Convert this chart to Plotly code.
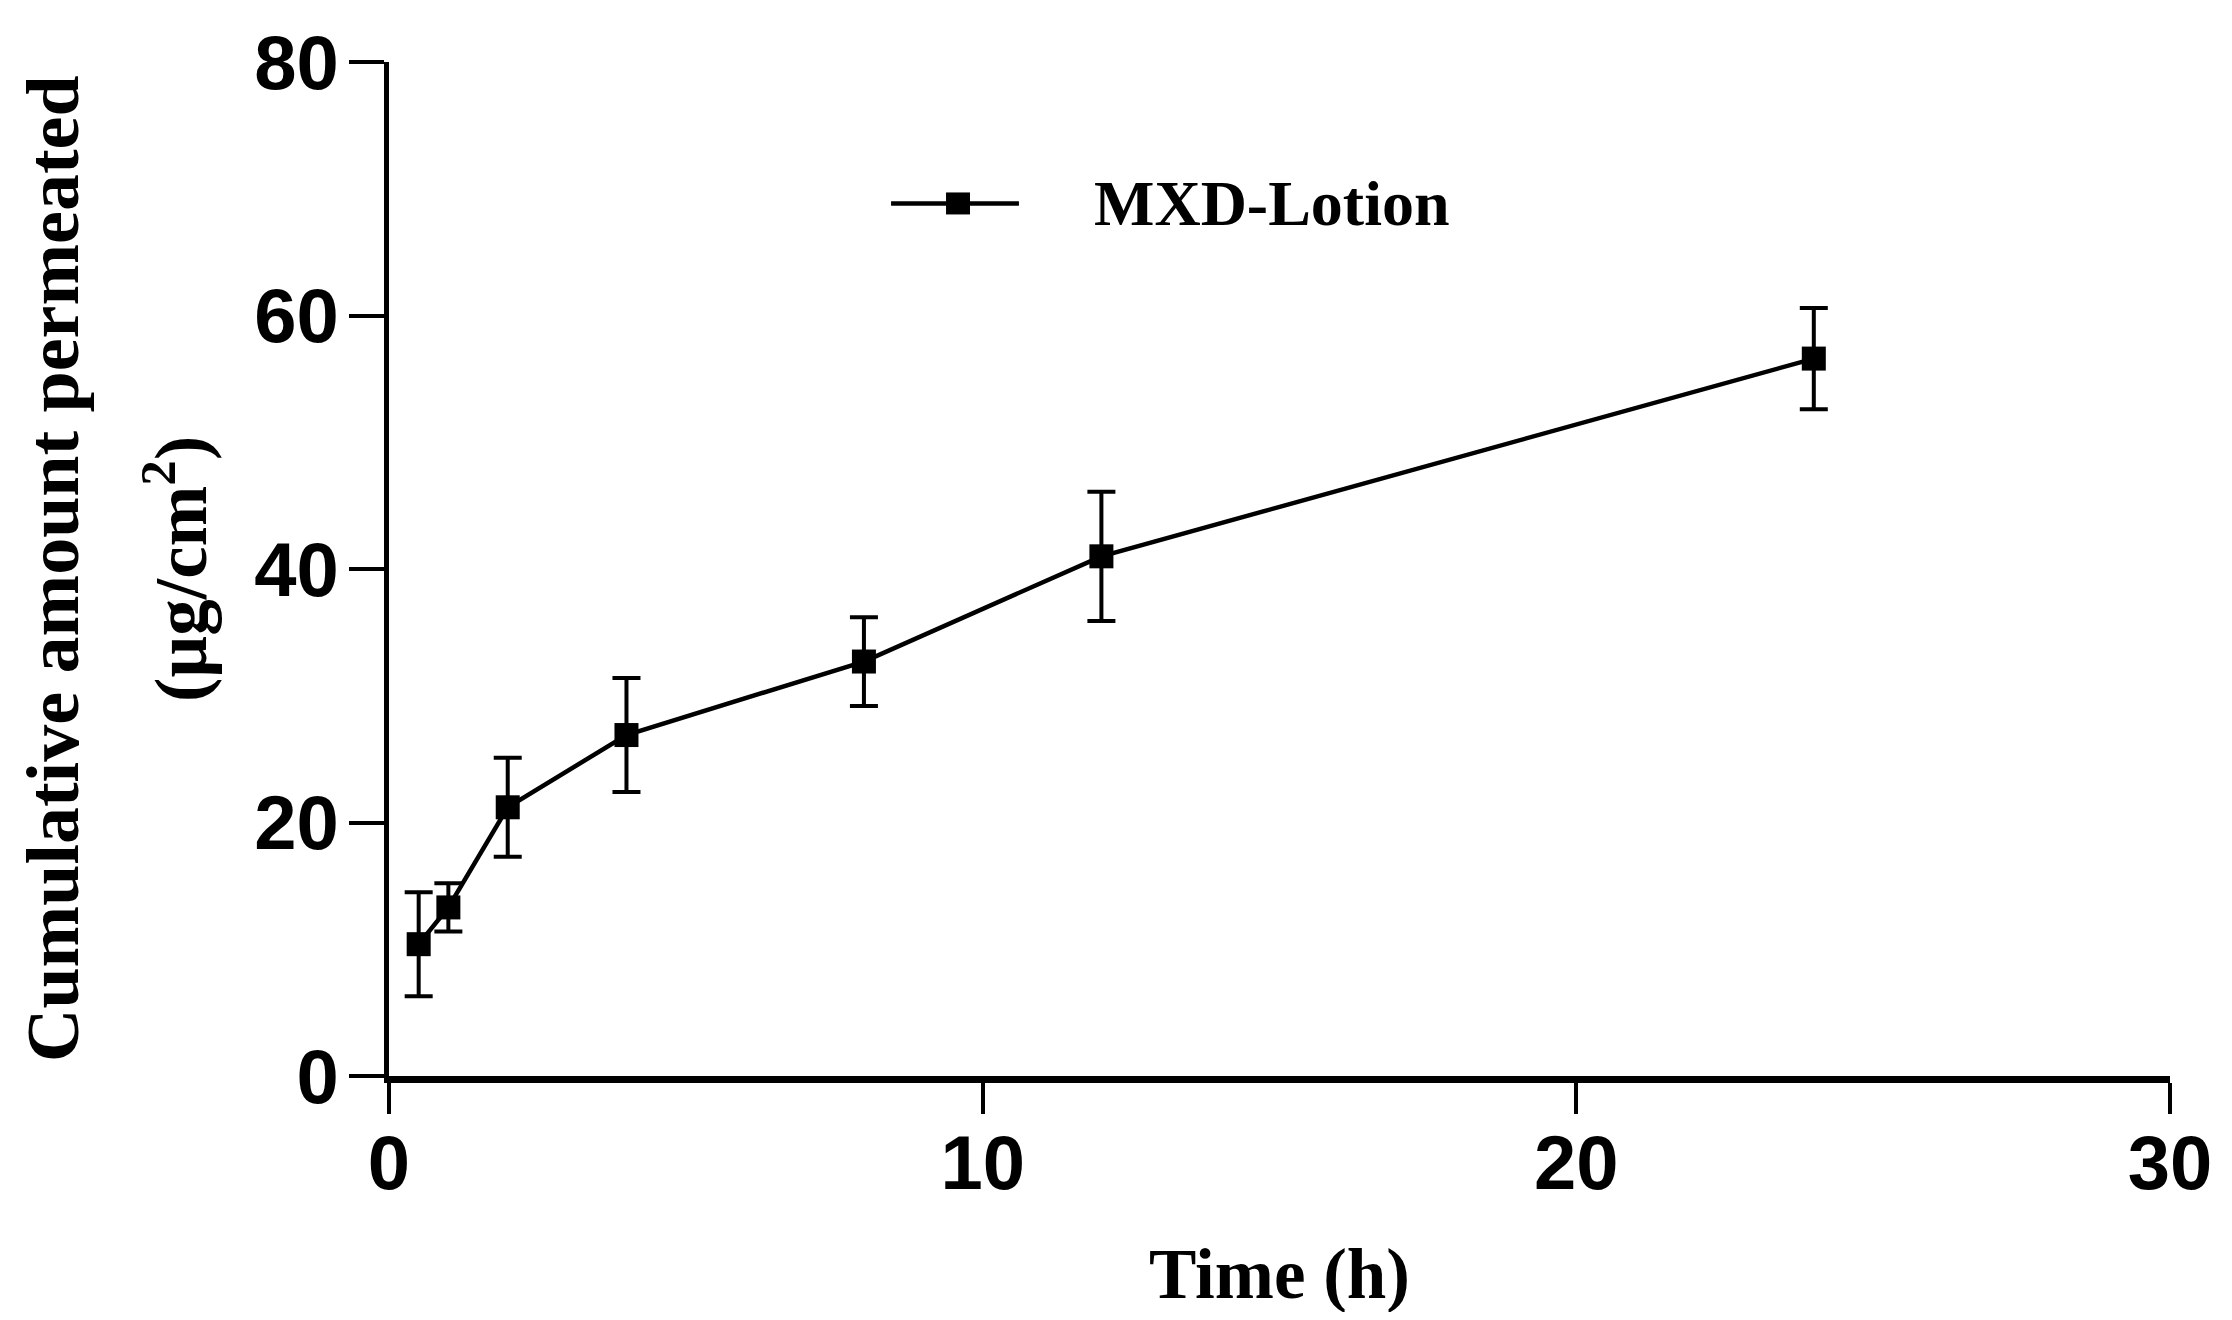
import plotly.graph_objects as go

# -- data
time_h = [0.5, 1, 2, 4, 8, 12, 24]
cum_permeated = [10.4, 13.3, 21.2, 26.9, 32.7, 41.0, 56.6]
sd_permeated = [4.1, 1.9, 3.9, 4.5, 3.5, 5.1, 4.0]
series_name = "MXD-Lotion"

x_ticks = [0, 10, 20, 30]
y_ticks = [0, 20, 40, 60, 80]

sans = "Liberation Sans, Arial, sans-serif"
serif = "Liberation Serif, Times New Roman, serif"

fig = go.Figure()

fig.add_trace(go.Scatter(
    x=time_h, y=cum_permeated,
    mode="lines+markers",
    name=series_name,
    line=dict(color="black", width=4.5),
    marker=dict(symbol="square", size=24, color="black"),
    error_y=dict(type="data", array=sd_permeated, visible=True,
                 color="black", thickness=4, width=14),
    showlegend=False,
))

# -- hand made legend (long line sample like the original)
leg_y = 0.8605
fig.add_shape(type="line", xref="paper", yref="paper",
              x0=0.2819, x1=0.3537, y0=leg_y, y1=leg_y,
              line=dict(color="black", width=4.5))
fig.add_shape(type="rect", xref="paper", yref="paper",
              xsizemode="pixel", ysizemode="pixel",
              xanchor=0.3195, yanchor=leg_y,
              x0=-12, x1=12, y0=-11, y1=11,
              fillcolor="black", line=dict(width=0))
fig.add_annotation(text=series_name, xref="paper", yref="paper",
                   x=0.3947, y=leg_y, xanchor="left", yanchor="middle",
                   showarrow=False,
                   font=dict(family=serif, size=64, color="black", weight="bold"))

# -- y axis title, two lines placed separately
fig.add_annotation(text="Cumulative amount permeated", xref="paper", yref="paper",
                   x=0, y=0.5, xshift=-336, xanchor="center", yanchor="middle",
                   textangle=-90, showarrow=False,
                   font=dict(family=serif, size=74, color="black", weight="bold"))
fig.add_annotation(text="(µg/cm<sup>2</sup>)", xref="paper", yref="paper",
                   x=0, y=0.5, xshift=-214, xanchor="center", yanchor="middle",
                   textangle=-90, showarrow=False,
                   font=dict(family=serif, size=73, color="black", weight="bold"))

# -- x axis title
fig.add_annotation(text="Time (h)", xref="paper", yref="paper",
                   x=0.5, y=0, yshift=-198, xanchor="center", yanchor="middle",
                   showarrow=False,
                   font=dict(family=serif, size=71, color="black", weight="bold"))

# page body has an 8px margin, so the figure is kept 16px smaller
fig.update_layout(
    width=2216, height=1304,
    margin=dict(l=381, r=54, t=43, b=236),
    paper_bgcolor="white", plot_bgcolor="white",
    xaxis=dict(
        range=[0, 30], tickvals=x_ticks,
        showgrid=False, zeroline=False,
        showline=True, linecolor="black", linewidth=7,
        ticks="outside", ticklen=31, tickwidth=4, tickcolor="black",
        ticklabelstandoff=-16,
        tickfont=dict(family=sans, size=76, color="black", weight="bold"),
    ),
    yaxis=dict(
        range=[0, 80], tickvals=y_ticks,
        showgrid=False, zeroline=False,
        showline=True, linecolor="black", linewidth=5,
        ticks="outside", ticklen=35, tickwidth=4, tickcolor="black",
        ticklabelstandoff=-5,
        tickfont=dict(family=sans, size=76, color="black", weight="bold"),
    ),
)

fig.write_html("out.html")
